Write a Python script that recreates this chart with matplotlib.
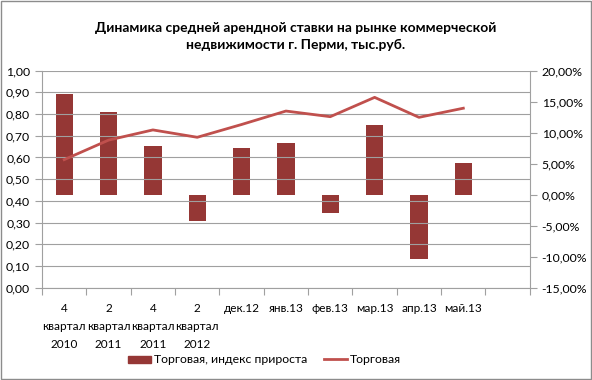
import matplotlib.pyplot as plt
import numpy as np
from matplotlib.patches import Patch
from matplotlib.lines import Line2D
from matplotlib.ticker import FuncFormatter

plt.rcParams['font.family'] = ['Lato', 'DejaVu Sans']

# подписи периодов
periods = ['4\nквартал\n2010', '2\nквартал\n2011', '4\nквартал\n2011', '2\nквартал\n2012',
           'дек.12', 'янв.13', 'фев.13', 'мар.13', 'апр.13', 'май.13', '']
# индекс прироста, %
growth = [16.2, 13.4, 7.9, -4.3, 7.5, 8.4, -2.9, 11.2, -10.4, 5.1]
# ставка, тыс.руб.
rate = [0.59, 0.68, 0.727, 0.693, 0.752, 0.814, 0.788, 0.877, 0.785, 0.827]

bar_color = '#953735'
line_color = '#C0504D'
grid_color = '#A0A0A0'

fig = plt.figure(figsize=(5.92, 3.8), dpi=100)
fig.patches.append(plt.Rectangle((0.002, 0.002), 0.996, 0.996, transform=fig.transFigure,
                                 fill=False, edgecolor='#8C8C8C', linewidth=1))
ax = fig.add_axes([0.071, 0.243, 0.824, 0.571])
ax2 = ax.twinx()

x = np.arange(len(periods))
ax2.bar(x[:len(growth)], growth, width=0.39, color=bar_color, zorder=2)
ax.plot(x[:len(rate)], rate, color=line_color, linewidth=2, zorder=3)

ax.set_xlim(-0.5, len(periods) - 0.5)
ax.set_ylim(0, 1.0)
ax.set_yticks(np.arange(0, 1.01, 0.1))
ax.yaxis.set_major_formatter(FuncFormatter(lambda v, p: f'{v:.2f}'.replace('.', ',')))
ax2.set_ylim(-15, 20)
ax2.set_yticks(np.arange(-15, 21, 5))
ax2.yaxis.set_major_formatter(FuncFormatter(lambda v, p: f'{v:.2f}%'.replace('.', ',')))

ax.set_zorder(ax2.get_zorder() + 1)
ax.patch.set_visible(False)
ax.grid(axis='y', color=grid_color, linewidth=0.8)
ax.set_axisbelow(True)

ax.set_xticks(np.arange(-0.5, len(periods), 1.0))
ax.set_xticklabels([])
ax.set_xticks(x, minor=True)
ax.set_xticklabels(periods, minor=True, fontsize=8.5, linespacing=1.8)
ax.tick_params(axis='x', which='minor', length=0, pad=11)
ax.tick_params(axis='x', which='major', length=5, color=grid_color)
ax.tick_params(axis='y', length=5, color=grid_color, labelsize=8.8)
ax2.tick_params(axis='y', length=5, color=grid_color, labelsize=8.8)

for a in (ax, ax2):
    a.spines['top'].set_visible(False)
    for s in ('left', 'right', 'bottom'):
        a.spines[s].set_color(grid_color)
ax2.spines['left'].set_visible(False)
ax2.spines['bottom'].set_visible(False)
ax.spines['right'].set_visible(False)

fig.text(0.5, 0.905, 'Динамика средней арендной ставки на рынке коммерческой\nнедвижимости г. Перми, тыс.руб.',
         ha='center', va='center', fontsize=10, fontweight='bold', linespacing=1.5)

handles = [Patch(color=bar_color), Line2D([0], [0], color=line_color, linewidth=2)]
fig.legend(handles, ['Торговая, индекс прироста', 'Торговая'], loc='center',
           bbox_to_anchor=(0.447, 0.053), ncol=2, frameon=False, fontsize=8.8,
           handlelength=1.9, handleheight=0.5, handletextpad=0.2, columnspacing=1.4)

fig.savefig('out.png', dpi=100)
